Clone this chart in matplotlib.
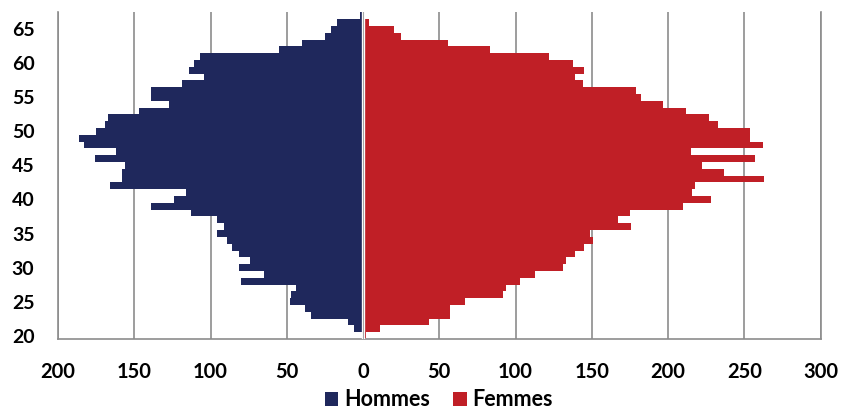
import matplotlib
matplotlib.use("Agg")
import matplotlib.pyplot as plt
import numpy as np

# age groups, one bar per year of age
ages = list(range(20, 68))

# counts per age (men drawn to the left)
hommes = [0, 6, 10, 34, 38, 48, 47, 44, 80, 65,
          81, 74, 81, 86, 89, 96, 91, 96, 113, 139,
          124, 116, 166, 158, 158, 156, 176, 162, 183, 186,
          175, 169, 167, 147, 127, 139, 139, 119, 104, 114,
          111, 107, 55, 40, 25, 21, 17, 2]
femmes = [2, 11, 43, 57, 57, 67, 92, 94, 103, 113,
          131, 133, 139, 145, 151, 149, 176, 167, 175, 210,
          228, 216, 218, 263, 237, 222, 257, 215, 262, 254,
          254, 233, 227, 212, 197, 182, 179, 144, 139, 145,
          138, 122, 83, 56, 25, 20, 4, 1]

x_ticks = list(range(-200, 301, 50))
y_ticks = list(range(20, 66, 5))

navy = "#1F285C"
red = "#C01F26"
grid_grey = "#8C8C8C"

plt.rcParams["font.family"] = ["Lato", "DejaVu Sans"]

fig = plt.figure(figsize=(8.42, 4.12), dpi=100)
ax = fig.add_axes([58 / 842, 1 - 339 / 412, (820.5 - 58) / 842, (339 - 12.3) / 412])

ax.barh(ages, -np.array(hommes), height=1.0, color=navy, linewidth=0, label="Hommes", zorder=2)
ax.barh(ages, femmes, height=1.0, color=red, linewidth=0, label="Femmes", zorder=2)

# zero axis drawn over the bars
ax.axvline(0, color="white", lw=2.4, zorder=3)
ax.axvline(0, color="#A6A6A6", lw=0.8, zorder=4)

ax.set_xlim(-200, 300)
ax.set_ylim(19.5, 67.5)
ax.set_xticks(x_ticks)
ax.set_xticklabels([str(abs(v)) for v in x_ticks])
ax.set_yticks(y_ticks)

ax.xaxis.grid(True, color=grid_grey, lw=1.2, zorder=0)
ax.set_axisbelow(True)
ax.spines["top"].set_visible(False)
for side in ["left", "right", "bottom"]:
    ax.spines[side].set_color(grid_grey)
    ax.spines[side].set_linewidth(1.2)

ax.tick_params(axis="x", length=0, pad=16.5, labelsize=14.5)
ax.tick_params(axis="y", length=0, pad=17, labelsize=14)
for lbl in ax.get_xticklabels() + ax.get_yticklabels():
    lbl.set_fontweight("bold")

fig.legend(loc="center", bbox_to_anchor=(439 / 842, 1 - 400 / 412), ncol=2, frameon=False,
           prop={"weight": "bold", "size": 15.5}, handlelength=0.62, handleheight=0.62,
           handletextpad=0.28, columnspacing=1.07, borderaxespad=0, borderpad=0)

fig.savefig("out.png", dpi=100)
